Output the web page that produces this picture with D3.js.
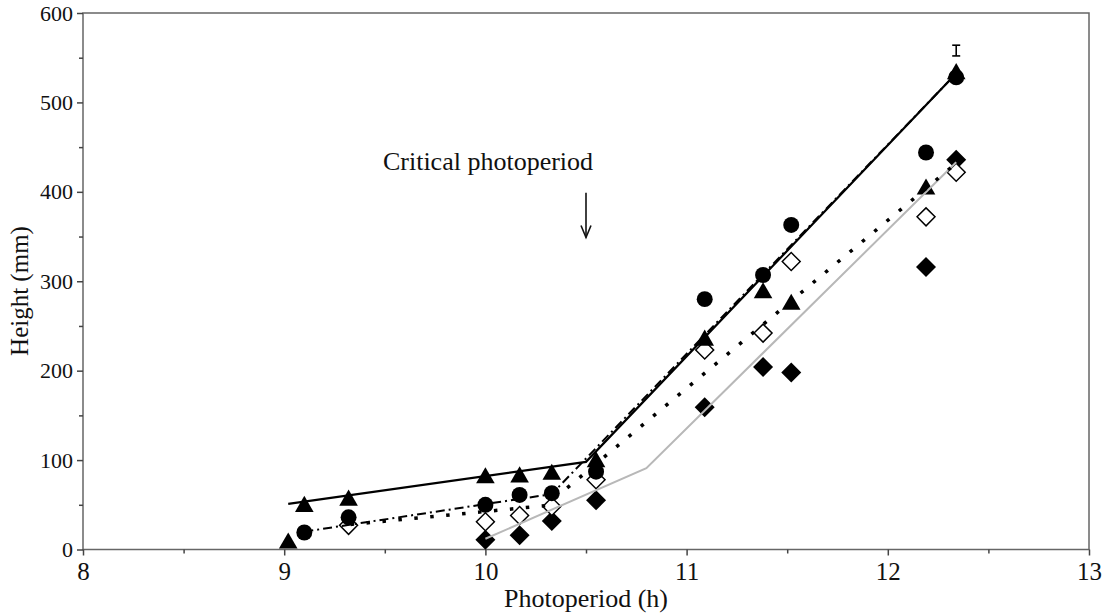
<!DOCTYPE html>
<html>
<head>
<meta charset="utf-8">
<script src="https://cdn.jsdelivr.net/npm/d3@7"></script>
<style>
  body { margin: 0; background: #fff; }
  svg { display: block; font-family: "Liberation Serif", "Times New Roman", serif; }
</style>
</head>
<body>
<div id="chart"></div>
<script>
// axis ticks
const xTicks = [8, 9, 10, 11, 12, 13];
const xMinorTicks = [8.5, 9.5, 10.5, 11.5, 12.5];
const yTicks = [0, 100, 200, 300, 400, 500, 600];
const yMinorTicks = [50, 150, 250, 350, 450, 550];

// filled triangles
const triX = [9.02, 9.10, 9.32, 10.0, 10.17, 10.33, 10.55, 11.09, 11.38, 11.52, 12.19, 12.34];
const triY = [7, 48, 55, 80, 81, 84, 98, 234, 287, 274, 403, 532];
// filled circles
const cirX = [9.10, 9.32, 10.0, 10.17, 10.33, 10.55, 11.09, 11.38, 11.52, 12.19, 12.34];
const cirY = [19, 36, 50, 61, 63, 87, 280, 307, 363, 444, 528];
// open diamonds
const openX = [9.32, 10.0, 10.17, 10.33, 10.55, 11.09, 11.38, 11.52, 12.19, 12.34];
const openY = [27, 31, 38, 48, 78, 223, 242, 322, 372, 422];
// filled diamonds
const fillX = [10.0, 10.17, 10.33, 10.55, 11.09, 11.38, 11.52, 12.19, 12.34];
const fillY = [11, 16, 32, 55, 159, 204, 198, 316, 436];

// broken-stick fits
const solidFitX = [9.02, 10.5, 12.33];
const solidFitY = [51, 98, 530];
const dashFitX = [9.10, 10.33, 12.33];
const dashFitY = [20, 62, 530];
const dotFitX = [9.33, 10.30, 12.34];
const dotFitY = [28, 49, 432];
const grayFitX = [10.0, 10.80, 12.34];
const grayFitY = [12, 91, 433];

// error bar
const errX = 12.34;
const errY = 558;
const errHalf = 6;

// critical photoperiod annotation
const criticalX = 10.5;
const arrowTop = 399;
const arrowBottom = 349;

const W = 1112, H = 616;
const margin = {top: 13, right: 23, bottom: 66.5, left: 83};
const width = W - margin.left - margin.right;
const height = H - margin.top - margin.bottom;

const svg = d3.select('#chart').append('svg')
  .attr('width', W)
  .attr('height', H);

const chart = svg.append('g')
  .attr('transform', `translate(${margin.left},${margin.top})`);

const x = d3.scaleLinear().domain([8, 13]).range([0, width]);
const y = d3.scaleLinear().domain([0, 600]).range([height, 0]);

// frame
chart.append('rect')
  .attr('width', width)
  .attr('height', height)
  .attr('fill', 'none')
  .attr('stroke', '#666')
  .attr('stroke-width', 1.5);

// axes
const xAxis = chart.append('g')
  .attr('transform', `translate(0,${height})`)
  .call(d3.axisBottom(x).tickValues(xTicks).tickSize(6).tickPadding(7).tickFormat(d3.format('d')));
const xMinor = chart.append('g')
  .attr('transform', `translate(0,${height})`)
  .call(d3.axisBottom(x).tickValues(xMinorTicks).tickSize(4).tickFormat(''));
const yAxis = chart.append('g')
  .call(d3.axisLeft(y).tickValues(yTicks).tickSize(6).tickPadding(4).tickFormat(d3.format('d')));
const yMinor = chart.append('g')
  .call(d3.axisLeft(y).tickValues(yMinorTicks).tickSize(4).tickFormat(''));

[xAxis, xMinor, yAxis, yMinor].forEach(g => {
  g.select('.domain').remove();
  g.selectAll('line').attr('stroke', '#444').attr('stroke-width', 1.5);
  g.selectAll('text')
    .attr('fill', '#111')
    .style('font-family', '"Liberation Serif", "Times New Roman", serif');
});
xAxis.selectAll('text').style('font-size', '25px');
yAxis.selectAll('text').style('font-size', '22px');

// axis titles
svg.append('text')
  .attr('x', 586)
  .attr('y', 607)
  .attr('text-anchor', 'middle')
  .style('font-size', '26px')
  .attr('fill', '#111')
  .text('Photoperiod (h)');

svg.append('text')
  .attr('transform', 'translate(28,291) rotate(-90)')
  .attr('text-anchor', 'middle')
  .style('font-size', '25px')
  .attr('fill', '#111')
  .text('Height (mm)');

// markers
const zip = (xs, ys) => xs.map((v, i) => ({x: v, y: ys[i]}));

const diamondPath = d3.symbol().type(d3.symbolSquare).size(200)();
const trianglePath = d3.symbol().type(d3.symbolTriangle).size(150)();
const circlePath = d3.symbol().type(d3.symbolCircle).size(200)();

chart.append('g').selectAll('path')
  .data(zip(fillX, fillY))
  .join('path')
  .attr('d', diamondPath)
  .attr('transform', d => `translate(${x(d.x)},${y(d.y)}) rotate(45)`)
  .attr('fill', '#000');

chart.append('g').selectAll('path')
  .data(zip(openX, openY))
  .join('path')
  .attr('d', diamondPath)
  .attr('transform', d => `translate(${x(d.x)},${y(d.y)}) rotate(45) scale(0.9)`)
  .attr('fill', '#fff')
  .attr('stroke', '#000')
  .attr('stroke-width', 1.6);

chart.append('g').selectAll('path')
  .data(zip(triX, triY))
  .join('path')
  .attr('d', trianglePath)
  .attr('transform', d => `translate(${x(d.x)},${y(d.y)})`)
  .attr('fill', '#000');

chart.append('g').selectAll('path')
  .data(zip(cirX, cirY))
  .join('path')
  .attr('d', circlePath)
  .attr('transform', d => `translate(${x(d.x)},${y(d.y)})`)
  .attr('fill', '#000');

// fitted lines
const line = d3.line().x(d => x(d.x)).y(d => y(d.y));

chart.append('path')
  .datum(zip(grayFitX, grayFitY))
  .attr('d', line)
  .attr('fill', 'none')
  .attr('stroke', '#b8b8b8')
  .attr('stroke-width', 2);

chart.append('path')
  .datum(zip(dotFitX, dotFitY))
  .attr('d', line)
  .attr('fill', 'none')
  .attr('stroke', '#000')
  .attr('stroke-width', 3.5)
  .attr('stroke-dasharray', '3.5,12.5');

chart.append('path')
  .datum(zip(dashFitX, dashFitY))
  .attr('d', line)
  .attr('fill', 'none')
  .attr('stroke', '#000')
  .attr('stroke-width', 2)
  .attr('stroke-dasharray', '9,4,2,4');

chart.append('path')
  .datum(zip(solidFitX, solidFitY))
  .attr('d', line)
  .attr('fill', 'none')
  .attr('stroke', '#000')
  .attr('stroke-width', 2.2);

// error bar
const eb = chart.append('g').attr('stroke', '#000').attr('stroke-width', 1.6);
eb.append('line')
  .attr('x1', x(errX)).attr('x2', x(errX))
  .attr('y1', y(errY - errHalf)).attr('y2', y(errY + errHalf));
[errY - errHalf, errY + errHalf].forEach(v => {
  eb.append('line')
    .attr('x1', x(errX) - 4).attr('x2', x(errX) + 4)
    .attr('y1', y(v)).attr('y2', y(v));
});

// critical photoperiod annotation
chart.append('text')
  .attr('x', x(criticalX) - 98)
  .attr('y', y(arrowTop) - 23)
  .attr('text-anchor', 'middle')
  .style('font-size', '26px')
  .attr('fill', '#111')
  .text('Critical photoperiod');

const arrow = chart.append('g')
  .attr('stroke', '#111')
  .attr('stroke-width', 1.6)
  .attr('fill', 'none');
arrow.append('line')
  .attr('x1', x(criticalX)).attr('x2', x(criticalX))
  .attr('y1', y(arrowTop)).attr('y2', y(arrowBottom));
arrow.append('path')
  .attr('d', `M${x(criticalX) - 5},${y(arrowBottom) - 12} L${x(criticalX)},${y(arrowBottom)} L${x(criticalX) + 5},${y(arrowBottom) - 12}`);
</script>
</body>
</html>
